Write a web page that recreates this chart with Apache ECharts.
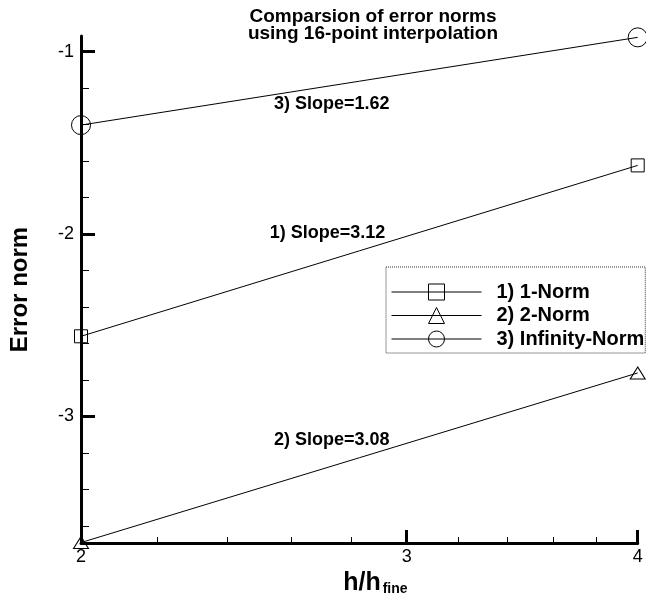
<!DOCTYPE html>
<html>
<head>
<meta charset="utf-8">
<script src="https://cdn.jsdelivr.net/npm/echarts@6/dist/echarts.min.js"></script>
<style>
html,body{margin:0;padding:0;background:#fff;}
#chart{width:646px;height:601px;}
</style>
</head>
<body>
<div id="chart"></div>
<script>
// ---- data ----
const xValues = [2, 4];
const seriesNames = ['1) 1-Norm', '2) 2-Norm', '3) Infinity-Norm'];
const norm1 = [-2.561, -1.624];
const norm2 = [-3.692, -2.762];
const normInf = [-1.403, -0.922];
const xMajorTicks = [2, 3, 4];
const xMinorTicks = [2.2, 2.4, 2.6, 2.8, 3.2, 3.4, 3.6, 3.8];
const yMajorTicks = [-3, -2, -1];
const yMinorTicks = [-3.6, -3.4, -3.2, -2.8, -2.6, -2.4, -2.2, -1.8, -1.6, -1.4, -1.2];
const titleLines = ['Comparsion of error norms', 'using 16-point interpolation'];
const slopeLabels = ['3) Slope=1.62', '1) Slope=3.12', '2) Slope=3.08'];

const FONT = '"Liberation Sans", Arial, Helvetica, sans-serif';
const pairs = (ys) => xValues.map((x, i) => [x, ys[i]]);

const chart = echarts.init(document.getElementById('chart'));

const baseSeries = (name, ys, symbol, size) => ({
  name: name,
  type: 'line',
  data: pairs(ys),
  xAxisIndex: 0,
  yAxisIndex: 0,
  symbol: symbol,
  symbolSize: size,
  showSymbol: true,
  clip: false,
  itemStyle: { color: 'transparent', borderColor: '#000', borderWidth: 1 },
  lineStyle: { color: '#000', width: 1 },
  emphasis: { disabled: true },
  z: 3
});

const option = {
  backgroundColor: '#fff',
  animation: false,
  textStyle: { fontFamily: FONT },
  grid: { left: 76, right: 8.3, top: 36, bottom: 54.3, containLabel: false },
  xAxis: [
    {
      type: 'log', logBase: 2, min: 2, max: 4,
      position: 'bottom',
      name: '{a|h/h}{b|fine}',
      nameLocation: 'middle',
      nameGap: 22,
      nameTextStyle: {
        padding: [0, 0, 0, 32],
        rich: {
          a: { fontFamily: FONT, fontWeight: 'bold', fontSize: 25, color: '#000', verticalAlign: 'bottom', lineHeight: 26 },
          b: { fontFamily: FONT, fontWeight: 'bold', fontSize: 14, color: '#000', verticalAlign: 'bottom', lineHeight: 26, padding: [0, 0, 0, 2] }
        }
      },
      axisLine: { show: true, lineStyle: { color: '#000', width: 3 } },
      axisTick: { show: true, inside: true, length: 13, lineStyle: { color: '#000', width: 3 }, customValues: xMajorTicks },
      axisLabel: { show: true, customValues: xMajorTicks, fontFamily: FONT, fontSize: 18, color: '#000', margin: 5 },
      splitLine: { show: false },
      minorTick: { show: false }
    },
    {
      type: 'log', logBase: 2, min: 2, max: 4,
      position: 'bottom',
      axisLine: { show: false },
      axisTick: { show: true, inside: true, length: 6, lineStyle: { color: '#000', width: 1 }, customValues: xMinorTicks },
      axisLabel: { show: false },
      splitLine: { show: false }
    }
  ],
  yAxis: [
    {
      type: 'value', min: -3.695, max: -0.9145,
      position: 'left',
      name: 'Error norm',
      nameLocation: 'middle',
      nameGap: 49,
      nameTextStyle: { fontFamily: FONT, fontWeight: 'bold', fontSize: 24, color: '#000' },
      axisLine: { show: true, lineStyle: { color: '#000', width: 3 } },
      axisTick: { show: true, inside: true, length: 14, lineStyle: { color: '#000', width: 3 }, customValues: yMajorTicks },
      axisLabel: { show: true, customValues: yMajorTicks, fontFamily: FONT, fontSize: 18, color: '#000', margin: 7 },
      splitLine: { show: false }
    },
    {
      type: 'value', min: -3.695, max: -0.9145,
      position: 'left',
      axisLine: { show: false },
      axisTick: { show: true, inside: true, length: 8, lineStyle: { color: '#000', width: 1 }, customValues: yMinorTicks },
      axisLabel: { show: false },
      splitLine: { show: false }
    }
  ],
  legend: {
    show: true,
    orient: 'vertical',
    left: 386,
    top: 267,
    padding: [15, 1, 4, 5],
    itemWidth: 90,
    itemHeight: 20,
    itemGap: 3.5,
    backgroundColor: '#fff',
    borderColor: '#333',
    borderWidth: 1,
    borderType: 'dotted',
    selectedMode: false,
    data: seriesNames,
    itemStyle: { borderWidth: 1, borderColor: '#000', color: 'transparent' },
    lineStyle: { width: 1, color: '#000' },
    textStyle: { fontFamily: FONT, fontWeight: 'bold', fontSize: 20, color: '#000', padding: [0, 0, 0, 10] },
    z: 10
  },
  graphic: [
    {
      type: 'text', x: 373, y: 25, z: 20,
      style: { text: titleLines.join('\n'), fontFamily: FONT, fontWeight: 'bold', fontSize: 19, lineHeight: 17, fill: '#000', align: 'center', verticalAlign: 'middle' }
    },
    {
      type: 'text', x: 331.7, y: 104.5, z: 20,
      style: { text: slopeLabels[0], fontFamily: FONT, fontWeight: 'bold', fontSize: 18, fill: '#000', align: 'center', verticalAlign: 'middle' }
    },
    {
      type: 'text', x: 327.6, y: 232.7, z: 20,
      style: { text: slopeLabels[1], fontFamily: FONT, fontWeight: 'bold', fontSize: 18, fill: '#000', align: 'center', verticalAlign: 'middle' }
    },
    {
      type: 'text', x: 331.7, y: 440, z: 20,
      style: { text: slopeLabels[2], fontFamily: FONT, fontWeight: 'bold', fontSize: 18, fill: '#000', align: 'center', verticalAlign: 'middle' }
    }
  ],
  series: [
    baseSeries(seriesNames[0], norm1, 'rect', 13),
    baseSeries(seriesNames[1], norm2, 'triangle', [15, 12]),
    baseSeries(seriesNames[2], normInf, 'circle', 19)
  ]
};

chart.setOption(option);
</script>
</body>
</html>
